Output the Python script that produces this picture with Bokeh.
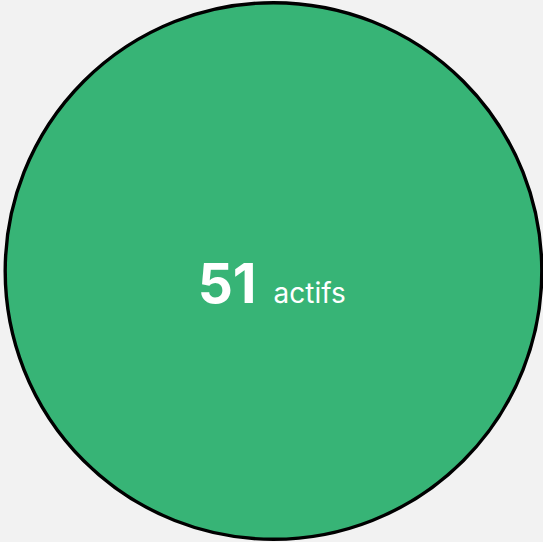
from bokeh.plotting import figure
from bokeh.models import Range1d, ColumnDataSource
from bokeh.embed import file_html
from bokeh.resources import INLINE
from bokeh.core.properties import value

# data
count = [51]
labels = ["actifs"]
fill = "#37b476"
bg = "#f2f2f2"

W, H = 543, 542
p = figure(width=W, height=H, output_backend="svg", toolbar_location=None,
           x_range=Range1d(-273, 270), y_range=Range1d(-271.5, 270.5),
           min_border=0, background_fill_color=bg, border_fill_color=bg)
p.outline_line_color = None
p.axis.visible = False
p.grid.visible = False

src = ColumnDataSource(dict(x=[0], y=[0], r=[268.3],
                            num=[str(c) for c in count], lab=labels))
p.circle(x="x", y="y", radius="r", source=src, fill_color=fill,
         line_color="black", line_width=3.4)

p.text(x="x", y="y", text="num", source=src, text_align="right",
       text_baseline="alphabetic", y_offset=11.5, x_offset=-17,
       text_font=value("Inter"), text_font_style="bold",
       text_font_size="55px", text_color="white")
p.text(x="x", y="y", text="lab", source=src, text_align="left",
       text_baseline="alphabetic", y_offset=21.5, x_offset=0,
       text_font=value("Inter"), text_font_size="28px", text_color="white")

html = file_html(p, INLINE)
html = html.replace("<head>", "<head><style>html,body{margin:0;padding:0;background:#f2f2f2;overflow:hidden}</style>", 1)
open("out.html", "w").write(html)
